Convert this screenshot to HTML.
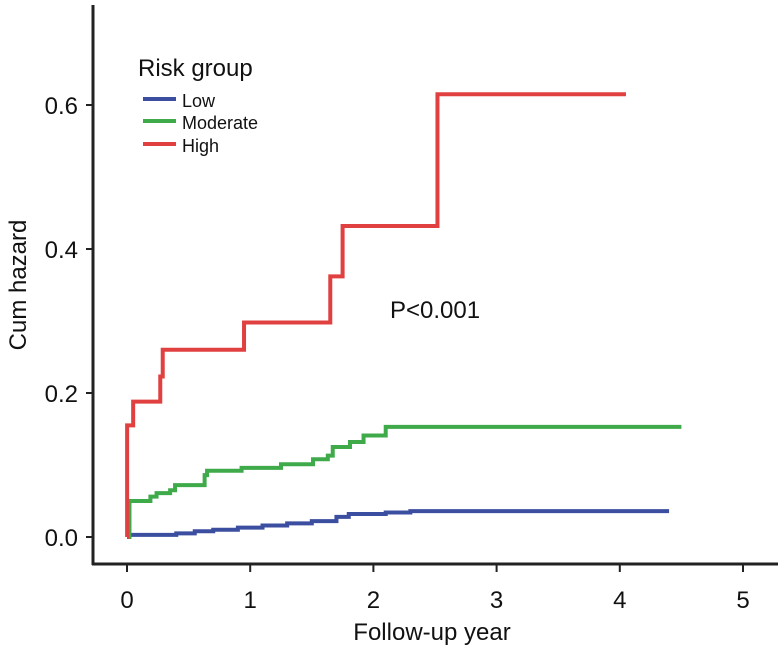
<!DOCTYPE html>
<html><head><meta charset="utf-8"><style>
html,body{margin:0;padding:0;background:#fff;}
svg{display:block;font-family:"Liberation Sans",Arial,sans-serif;}
</style></head><body>
<svg id="chart" width="784" height="648" viewBox="0 0 784 648">
<g id="axes"></g>
<g id="series"></g>
<g id="legend">
<text x="138" y="76" font-size="24" fill="#111">Risk group</text>
<line x1="143" y1="99" x2="176" y2="99" stroke="#3b4ea0" stroke-width="4"/>
<text x="182" y="107" font-size="18" fill="#111">Low</text>
<line x1="143" y1="121" x2="176" y2="121" stroke="#3faa4a" stroke-width="4"/>
<text x="182" y="129" font-size="18" fill="#111">Moderate</text>
<line x1="143" y1="144" x2="176" y2="144" stroke="#e0403f" stroke-width="4"/>
<text x="182" y="152" font-size="18" fill="#111">High</text>
</g>
<text x="390" y="318" font-size="24" fill="#111">P&lt;0.001</text>
<text x="0" y="0" font-size="24" fill="#111" text-anchor="middle" transform="translate(26,285) rotate(-90)">Cum hazard</text>
<text x="432" y="640" font-size="24" fill="#111" text-anchor="middle">Follow-up year</text>
</svg>
<script>
const xTicks=[0,1,2,3,4,5];
const yTicks=[0.0,0.2,0.4,0.6];
const yTickLabels=["0.0","0.2","0.4","0.6"];
const lowTimes=[0,0.4,0.55,0.7,0.9,1.1,1.3,1.5,1.7,1.8,2.1,2.3,4.4];
const lowValues=[0.003,0.005,0.008,0.01,0.013,0.016,0.019,0.022,0.028,0.032,0.034,0.036,0.036];
const modTimes=[0,0.02,0.19,0.24,0.35,0.39,0.63,0.65,0.93,1.25,1.51,1.63,1.67,1.81,1.92,2.1,4.5];
const modValues=[0,0.05,0.056,0.061,0.065,0.072,0.086,0.092,0.096,0.101,0.108,0.113,0.125,0.132,0.141,0.153,0.153];
const highTimes=[0,0.001,0.05,0.27,0.29,0.95,1.65,1.75,2.52,4.05];
const highValues=[0,0.155,0.188,0.223,0.26,0.298,0.362,0.432,0.615,0.615];
const NS="http://www.w3.org/2000/svg";
function xs(v){return 127+v*123.2;}
function ys(v){return 537-v*720;}
const axes=document.getElementById('axes');
function mk(tag,attrs,parent){const e=document.createElementNS(NS,tag);for(const k in attrs)e.setAttribute(k,attrs[k]);parent.appendChild(e);return e;}
let yl=mk('line',{x1:93,y1:5,x2:93,y2:565,stroke:'#222','stroke-width':3},axes);


let xl=mk('line',{x1:92,y1:564,x2:778,y2:564,stroke:'#222','stroke-width':3},axes);


xTicks.forEach(t=>{
 const l=mk('line',{x1:xs(t),y1:565,x2:xs(t),y2:572,stroke:'#222','stroke-width':2},axes);
 
 
 const tx=mk('text',{x:xs(t),y:608,'font-size':24,'text-anchor':'middle',fill:'#111'},axes);
 tx.textContent=String(t);
 
 
});
yTicks.forEach((t,i)=>{
 const l=mk('line',{x1:86,y1:ys(t),x2:93,y2:ys(t),stroke:'#222','stroke-width':2},axes);
 
 
 const tx=mk('text',{x:78,y:ys(t)+9,'font-size':24,'text-anchor':'end',fill:'#111'},axes);
 tx.textContent=yTickLabels[i];
 
 
});
const series=document.getElementById('series');
function step(times,vals,color,name){
 let d='M'+xs(times[0])+','+ys(vals[0]);
 for(let i=1;i<times.length;i++){d+=' H'+xs(times[i])+' V'+ys(vals[i]);}
 const p=mk('path',{d:d,fill:'none',stroke:color,'stroke-width':4,'stroke-linejoin':'miter'},series);
 
 
}
step(lowTimes,lowValues,'#3b4ea0','low-risk-line');
step(modTimes,modValues,'#3faa4a','moderate-risk-line');
step(highTimes,highValues,'#e0403f','high-risk-line');
</script>
</body></html>
